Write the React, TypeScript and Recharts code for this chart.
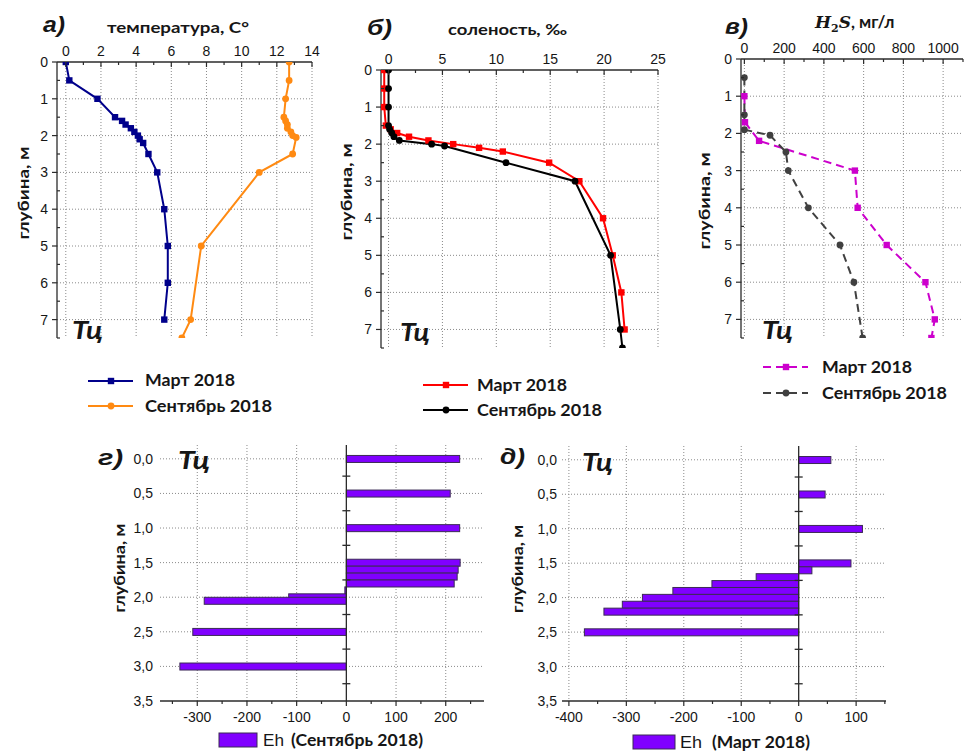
import React from "react";
import {
  LineChart,
  Line,
  BarChart,
  Bar,
  XAxis,
  YAxis,
  CartesianGrid,
  ReferenceLine,
} from "recharts";

// а) температура, C°
const tempMarchDepth = [0, 0.5, 1, 1.5, 1.6, 1.7, 1.8, 1.9, 2, 2.1, 2.2, 2.5, 3, 4, 5, 6, 7];
const tempMarch = [0.0, 0.2, 1.8, 2.8, 3.2, 3.4, 3.7, 3.9, 4.1, 4.2, 4.4, 4.7, 5.2, 5.6, 5.8, 5.8, 5.6];
const tempSeptDepth = [0, 0.5, 1, 1.5, 1.6, 1.7, 1.8, 1.9, 2, 2.05, 2.5, 3, 5, 7, 7.5];
const tempSept = [12.7, 12.7, 12.5, 12.4, 12.5, 12.6, 12.6, 12.8, 12.9, 13.1, 12.9, 11.0, 7.7, 7.1, 6.6];

// б) соленость, ‰
const salMarchDepth = [0, 0.5, 1, 1.5, 1.6, 1.7, 1.8, 1.9, 2, 2.1, 2.2, 2.5, 3, 4, 5, 6, 7];
const salMarch = [-0.4, -0.4, -0.4, -0.25, 0.2, 0.8, 1.9, 3.7, 6.0, 8.4, 10.6, 14.9, 17.7, 19.9, 20.8, 21.6, 21.9];
const salSeptDepth = [0, 0.5, 1, 1.5, 1.6, 1.7, 1.8, 1.9, 2, 2.05, 2.5, 3, 5, 7, 7.5];
const salSept = [0, 0, 0, 0, 0.1, 0.3, 0.5, 1.0, 4.0, 5.2, 10.9, 17.3, 20.6, 21.5, 21.7];

// в) H2S, мг/л
const h2sMarchDepth = [1, 1.7, 2.2, 3, 4, 5, 6, 7, 7.5];
const h2sMarch = [0, 3, 74, 556, 570, 716, 911, 958, 941];
const h2sSeptDepth = [0.5, 1.5, 1.9, 2.05, 2.5, 3, 4, 5, 6, 7.5];
const h2sSept = [0, 0, 0, 129, 209, 221, 322, 481, 551, 595];

// г) Eh, сентябрь 2018
const ehSeptDepth = [0, 0.5, 1, 1.5, 1.6, 1.7, 1.8, 1.9, 2, 2.05, 2.5, 3];
const ehSept = [228, 209, 228, 229, 225, 223, 217, -3, -116, -286, -309, -335];

// д) Eh, март 2018
const ehMarchDepth = [0, 0.5, 1, 1.5, 1.6, 1.7, 1.8, 1.9, 2, 2.1, 2.2, 2.5];
const ehMarch = [56, 46, 111, 91, 23, -74, -151, -219, -272, -307, -339, -373];

// ticks
const depthTicks = [0, 0.5, 1, 1.5, 2, 2.5, 3, 3.5, 4, 4.5, 5, 5.5, 6, 6.5, 7, 7.5];
const depthMajor = [0, 1, 2, 3, 4, 5, 6, 7];
const depthGrid = [1, 2, 3, 4, 5, 6, 7];

const tempTicks = [0, 1, 2, 3, 4, 5, 6, 7, 8, 9, 10, 11, 12, 13, 14];
const tempMajor = [0, 2, 4, 6, 8, 10, 12, 14];
const salTicks = [0, 2.5, 5, 7.5, 10, 12.5, 15, 17.5, 20, 22.5, 25];
const salMajor = [0, 5, 10, 15, 20, 25];
const h2sTicks = [0, 100, 200, 300, 400, 500, 600, 700, 800, 900, 1000, 1100];
const h2sMajor = [0, 200, 400, 600, 800, 1000];

const ehDepthTicks = [0, 0.5, 1, 1.5, 2, 2.5, 3, 3.5];
const ehDepthGrid = [0, 0.5, 1, 1.5, 2, 2.5, 3];
const ehZeroMarks = [0.25, 0.75, 1.25, 1.75, 2.25, 2.75, 3.25];
const ehSeptTicks = [-350, -300, -250, -200, -150, -100, -50, 0, 50, 100, 150, 200, 250];
const ehSeptMajor = [-300, -200, -100, 0, 100, 200];
const ehSeptGrid = [-300, -200, -100, 100, 200];
const ehMarchTicks = [-400, -350, -300, -250, -200, -150, -100, -50, 0, 50, 100, 150];
const ehMarchMajor = [-400, -300, -200, -100, 0, 100];
const ehMarchGrid = [-400, -300, -200, -100, 100];

type Pt = { d: number; v: number };
const zip = (depth: number[], vals: number[]): Pt[] => depth.map((d, i) => ({ d, v: vals[i] }));
const ehRows = (depth: number[], vals: number[]) => depth.map((d, i) => ({ d, eh: vals[i] }));

const TICK_FONT = "'Liberation Sans', Arial, sans-serif";
const BOLD_FONT = "Lato, 'Open Sans', sans-serif";
const INK = "#161616";
const AXIS = "#2b2b2b";
const GRID = "#8a8a8a";
const EH_FILL = "#8000ff";

const isMajor = (v: number, majors: number[]) => majors.some((m) => Math.abs(m - v) < 1e-6);

const TopTick = (props: any) => {
  const { x, y, payload, majors } = props;
  const major = isMajor(payload.value, majors);
  return (
    <g>
      <line x1={x} x2={x} y1={y} y2={y + (major ? 5 : 3)} stroke={AXIS} strokeWidth={1.2} />
      {major && (
        <text x={x} y={y - 6} textAnchor="middle" fontFamily={TICK_FONT} fontSize={14} fill={INK}>
          {payload.value}
        </text>
      )}
    </g>
  );
};

const LeftTick = (props: any) => {
  const { x, y, payload } = props;
  const major = isMajor(payload.value, depthMajor);
  return (
    <g>
      <line x1={x - (major ? 5 : 0)} x2={x + (major ? 0 : 3)} y1={y} y2={y} stroke={AXIS} strokeWidth={1.2} />
      {major && (
        <text x={x - 9} y={y + 5} textAnchor="end" fontFamily={TICK_FONT} fontSize={14} fill={INK}>
          {payload.value}
        </text>
      )}
    </g>
  );
};

const BottomTick = (props: any) => {
  const { x, y, payload, majors } = props;
  const major = isMajor(payload.value, majors);
  return (
    <g>
      <line x1={x} x2={x} y1={y} y2={y + (major ? 5 : 3)} stroke={AXIS} strokeWidth={1.2} />
      {major && (
        <text x={x} y={y + 21} textAnchor="middle" fontFamily={TICK_FONT} fontSize={14} fill={INK}>
          {payload.value}
        </text>
      )}
    </g>
  );
};

const DepthLabelTick = (props: any) => {
  const { x, y, payload, gap } = props;
  return (
    <text x={x - gap} y={y + 5} textAnchor="end" fontFamily={TICK_FONT} fontSize={14} fill={INK}>
      {payload.value.toFixed(1).replace(".", ",")}
    </text>
  );
};

const EhBar = (p: any) => {
  const { x, y, width, height } = p;
  if (![x, y, width, height].every(Number.isFinite)) return <g />;
  const left = Math.min(x, x + width);
  const cy = y + height / 2;
  return (
    <rect x={left} y={cy - 3.5} width={Math.abs(width)} height={7} fill={EH_FILL} stroke="#3b2a55" strokeWidth={1} />
  );
};

type Series = { data: Pt[]; color: string; marker: "square" | "circle"; dash?: string };

type ProfileProps = {
  left: number;
  top: number;
  plotW: number;
  plotH: number;
  xDomain: [number, number];
  xTicks: number[];
  xMajor: number[];
  series: Series[];
};

const ProfilePanel = ({ left, top, plotW, plotH, xDomain, xTicks, xMajor, series }: ProfileProps) => {
  const yW = 45;
  const xH = 32;
  const mr = 8;
  const mb = 6;
  return (
    <div style={{ position: "absolute", left: left - yW, top: top - xH }}>
      <LineChart
        width={yW + plotW + mr}
        height={xH + plotH + mb}
        margin={{ top: 0, right: mr, bottom: mb, left: 0 }}
      >
        <CartesianGrid
          verticalValues={xMajor}
          horizontalValues={depthGrid}
          stroke={GRID}
          strokeDasharray="1 2"
        />
        <XAxis
          type="number"
          dataKey="v"
          orientation="top"
          domain={xDomain}
          allowDataOverflow
          ticks={xTicks}
          interval={0}
          height={xH}
          tickSize={0}
          tickMargin={0}
          tickLine={false}
          axisLine={{ stroke: AXIS, strokeWidth: 1.3 }}
          tick={(p: any) => <TopTick {...p} majors={xMajor} />}
        />
        <YAxis
          type="number"
          dataKey="d"
          reversed
          domain={[0, 7.5]}
          allowDataOverflow
          ticks={depthTicks}
          interval={0}
          width={yW}
          tickSize={0}
          tickMargin={0}
          tickLine={false}
          axisLine={{ stroke: AXIS, strokeWidth: 1.3 }}
          tick={(p: any) => <LeftTick {...p} />}
        />
        {series.map((s, si) => (
          <Line
            key={si}
            data={s.data}
            dataKey="d"
            stroke={s.color}
            strokeWidth={2}
            strokeDasharray={s.dash}
            isAnimationActive={false}
            dot={(p: any) =>
              s.marker === "square" ? (
                <rect key={`m${si}-${p.index}`} x={p.cx - 3.2} y={p.cy - 3.2} width={6.4} height={6.4} fill={s.color} />
              ) : (
                <circle key={`m${si}-${p.index}`} cx={p.cx} cy={p.cy} r={3.4} fill={s.color} />
              )
            }
          />
        ))}
      </LineChart>
    </div>
  );
};

type EhProps = {
  left: number;
  top: number;
  plotW: number;
  plotH: number;
  rows: { d: number; eh: number }[];
  xDomain: [number, number];
  xTicks: number[];
  xMajor: number[];
  xGrid: number[];
  markHalf: number;
  labelGap: number;
};

const EhPanel = ({ left, top, plotW, plotH, rows, xDomain, xTicks, xMajor, xGrid, markHalf, labelGap }: EhProps) => {
  const yW = 45;
  const xH = 32;
  return (
    <div style={{ position: "absolute", left: left - yW, top }}>
      <BarChart
        layout="vertical"
        data={rows}
        width={yW + plotW + 4}
        height={plotH + xH}
        margin={{ top: 0, right: 4, bottom: 0, left: 0 }}
      >
        <CartesianGrid
          verticalValues={xGrid}
          horizontalValues={ehDepthGrid}
          stroke={GRID}
          strokeDasharray="1 2"
        />
        <XAxis
          type="number"
          domain={xDomain}
          allowDataOverflow
          ticks={xTicks}
          interval={0}
          height={xH}
          tickSize={0}
          tickMargin={0}
          tickLine={false}
          axisLine={{ stroke: AXIS, strokeWidth: 1.3 }}
          tick={(p: any) => <BottomTick {...p} majors={xMajor} />}
        />
        {/* in vertical layout the category axis already runs top -> bottom */}
        <YAxis
          type="number"
          dataKey="d"
          domain={[-0.2, 3.5]}
          allowDataOverflow
          ticks={ehDepthTicks}
          interval={0}
          width={yW}
          tickSize={0}
          tickMargin={0}
          tickLine={false}
          axisLine={false}
          tick={(p: any) => <DepthLabelTick {...p} gap={labelGap} />}
        />
        <ReferenceLine x={0} stroke={AXIS} strokeWidth={1.3} />
        {ehZeroMarks.map((m) => (
          <ReferenceLine
            key={m}
            segment={[
              { x: -markHalf, y: m },
              { x: markHalf, y: m },
            ]}
            stroke={AXIS}
            strokeWidth={1.3}
          />
        ))}
        <Bar dataKey="eh" shape={EhBar} isAnimationActive={false} />
      </BarChart>
    </div>
  );
};

const T = (p: any) => <text fill={INK} {...p} />;

const Overlay = () => (
  <svg width={964} height={751} style={{ position: "absolute", left: 0, top: 0, pointerEvents: "none" }}>
    {/* panel letters */}
    <g fontFamily="'Liberation Sans', Arial, sans-serif" fontWeight="bold" fontStyle="italic" fontSize={22}>
      <T x={43} y={32} textLength={22} lengthAdjust="spacingAndGlyphs">а)</T>
      <T x={367} y={35} textLength={25} lengthAdjust="spacingAndGlyphs">б)</T>
      <T x={725} y={34} textLength={23} lengthAdjust="spacingAndGlyphs">в)</T>
      <T x={98} y={465} textLength={25} lengthAdjust="spacingAndGlyphs">г)</T>
      <T x={500} y={464} textLength={25} lengthAdjust="spacingAndGlyphs">д)</T>
    </g>

    {/* Тц */}
    <g fontFamily={BOLD_FONT} fontWeight="bold" fontStyle="italic" fontSize={25}>
      <T x={72} y={339} textLength={31} lengthAdjust="spacingAndGlyphs">Тц</T>
      <T x={400} y={341} textLength={30} lengthAdjust="spacingAndGlyphs">Тц</T>
      <T x={762} y={339} textLength={31} lengthAdjust="spacingAndGlyphs">Тц</T>
      <T x={178} y={469} textLength={32} lengthAdjust="spacingAndGlyphs">Тц</T>
      <T x={582} y={471} textLength={31} lengthAdjust="spacingAndGlyphs">Тц</T>
    </g>

    {/* titles */}
    <g fontFamily={BOLD_FONT} fontWeight="bold" fontSize={16}>
      <T x={107} y={33} textLength={142} lengthAdjust="spacingAndGlyphs">температура, С°</T>
      <T x={448} y={35} textLength={119} lengthAdjust="spacingAndGlyphs">соленость, ‰</T>
      <T x={815} y={28} fontSize={17}>
        <tspan fontFamily="'DejaVu Serif', 'Liberation Serif', serif" fontStyle="italic">H</tspan>
        <tspan fontFamily="'DejaVu Serif', 'Liberation Serif', serif" fontSize={11} dy={4}>2</tspan>
        <tspan fontFamily="'DejaVu Serif', 'Liberation Serif', serif" fontStyle="italic" dy={-4}>S</tspan>
        <tspan>, мг/л</tspan>
      </T>
    </g>

    {/* depth axis titles */}
    <g fontFamily={BOLD_FONT} fontWeight="bold" fontSize={16} textAnchor="middle" dominantBaseline="central">
      <T x={22} y={193} transform="rotate(-90 22 193)" textLength={93} lengthAdjust="spacingAndGlyphs">глубина, м</T>
      <T x={345} y={192} transform="rotate(-90 345 192)" textLength={97} lengthAdjust="spacingAndGlyphs">глубина, м</T>
      <T x={703} y={201} transform="rotate(-90 703 201)" textLength={97} lengthAdjust="spacingAndGlyphs">глубина, м</T>
      <T x={118} y={568} transform="rotate(-90 118 568)" textLength={89} lengthAdjust="spacingAndGlyphs">глубина, м</T>
      <T x={516} y={569} transform="rotate(-90 516 569)" textLength={88} lengthAdjust="spacingAndGlyphs">глубина, м</T>
    </g>

    {/* legends: температура */}
    <line x1={88} x2={133} y1={381} y2={381} stroke="#00008b" strokeWidth={2} />
    <rect x={107.8} y={377.8} width={6.4} height={6.4} fill="#00008b" />
    <line x1={88} x2={133} y1={406} y2={406} stroke="#ff8a12" strokeWidth={2} />
    <circle cx={111} cy={406} r={3.4} fill="#ff8a12" />
    {/* legends: соленость */}
    <line x1={423} x2={468} y1={385} y2={385} stroke="#ff0000" strokeWidth={2} />
    <rect x={442.8} y={381.8} width={6.4} height={6.4} fill="#ff0000" />
    <line x1={423} x2={468} y1={410} y2={410} stroke="#000000" strokeWidth={2} />
    <circle cx={446} cy={410} r={3.4} fill="#000000" />
    {/* legends: H2S */}
    <line x1={763} x2={808} y1={367} y2={367} stroke="#cc00cc" strokeWidth={2} strokeDasharray="8 5" />
    <rect x={782.8} y={363.8} width={6.4} height={6.4} fill="#cc00cc" />
    <line x1={763} x2={808} y1={393} y2={393} stroke="#404040" strokeWidth={2} strokeDasharray="8 5" />
    <circle cx={786} cy={393} r={3.4} fill="#404040" />

    <g fontFamily={BOLD_FONT} fontWeight="bold" fontSize={17}>
      <T x={145} y={386} textLength={90} lengthAdjust="spacingAndGlyphs">Март 2018</T>
      <T x={145} y={412} textLength={127} lengthAdjust="spacingAndGlyphs">Сентябрь 2018</T>
      <T x={477} y={391} textLength={90} lengthAdjust="spacingAndGlyphs">Март 2018</T>
      <T x={477} y={416} textLength={125} lengthAdjust="spacingAndGlyphs">Сентябрь 2018</T>
      <T x={822} y={373} textLength={90} lengthAdjust="spacingAndGlyphs">Март 2018</T>
      <T x={822} y={399} textLength={125} lengthAdjust="spacingAndGlyphs">Сентябрь 2018</T>
    </g>

    {/* legends: Eh */}
    <rect x={219} y={733} width={38} height={14} fill={EH_FILL} stroke="#3b2a55" strokeWidth={1} />
    <rect x={633} y={735} width={42} height={14} fill={EH_FILL} stroke="#3b2a55" strokeWidth={1} />
    <g fontFamily={TICK_FONT} fontSize={17}>
      <T x={263} y={746} textLength={21} lengthAdjust="spacingAndGlyphs">Eh</T>
      <T x={680} y={748} textLength={22} lengthAdjust="spacingAndGlyphs">Eh</T>
    </g>
    <g fontFamily={BOLD_FONT} fontWeight="bold" fontSize={17}>
      <T x={291} y={746} textLength={132} lengthAdjust="spacingAndGlyphs">(Сентябрь 2018)</T>
      <T x={712} y={748} textLength={98} lengthAdjust="spacingAndGlyphs">(Март 2018)</T>
    </g>
  </svg>
);

export default function App() {
  return (
    <div
      style={{
        position: "fixed",
        left: 0,
        top: 0,
        width: 964,
        height: 751,
        overflow: "hidden",
        background: "#ffffff",
      }}
    >
      <ProfilePanel
        left={57}
        top={62}
        plotW={255}
        plotH={276}
        xDomain={[-0.5, 14]}
        xTicks={tempTicks}
        xMajor={tempMajor}
        series={[
          { data: zip(tempMarchDepth, tempMarch), color: "#00008b", marker: "square" },
          { data: zip(tempSeptDepth, tempSept), color: "#ff8a12", marker: "circle" },
        ]}
      />
      <ProfilePanel
        left={381}
        top={70}
        plotW={277}
        plotH={278}
        xDomain={[-0.7, 25]}
        xTicks={salTicks}
        xMajor={salMajor}
        series={[
          { data: zip(salMarchDepth, salMarch), color: "#ff0000", marker: "square" },
          { data: zip(salSeptDepth, salSept), color: "#000000", marker: "circle" },
        ]}
      />
      <ProfilePanel
        left={741}
        top={59}
        plotW={222}
        plotH={279}
        xDomain={[-17, 1100]}
        xTicks={h2sTicks}
        xMajor={h2sMajor}
        series={[
          { data: zip(h2sMarchDepth, h2sMarch), color: "#cc00cc", marker: "square", dash: "8 5" },
          { data: zip(h2sSeptDepth, h2sSept), color: "#404040", marker: "circle", dash: "8 5" },
        ]}
      />
      <EhPanel
        left={160}
        top={445}
        plotW={324}
        plotH={256}
        rows={ehRows(ehSeptDepth, ehSept)}
        xDomain={[-375, 277]}
        xTicks={ehSeptTicks}
        xMajor={ehSeptMajor}
        xGrid={ehSeptGrid}
        markHalf={8}
        labelGap={7}
      />
      <EhPanel
        left={562}
        top={446}
        plotW={324}
        plotH={255}
        rows={ehRows(ehMarchDepth, ehMarch)}
        xDomain={[-412, 152]}
        xTicks={ehMarchTicks}
        xMajor={ehMarchMajor}
        xGrid={ehMarchGrid}
        markHalf={7}
        labelGap={5}
      />
      <Overlay />
    </div>
  );
}
